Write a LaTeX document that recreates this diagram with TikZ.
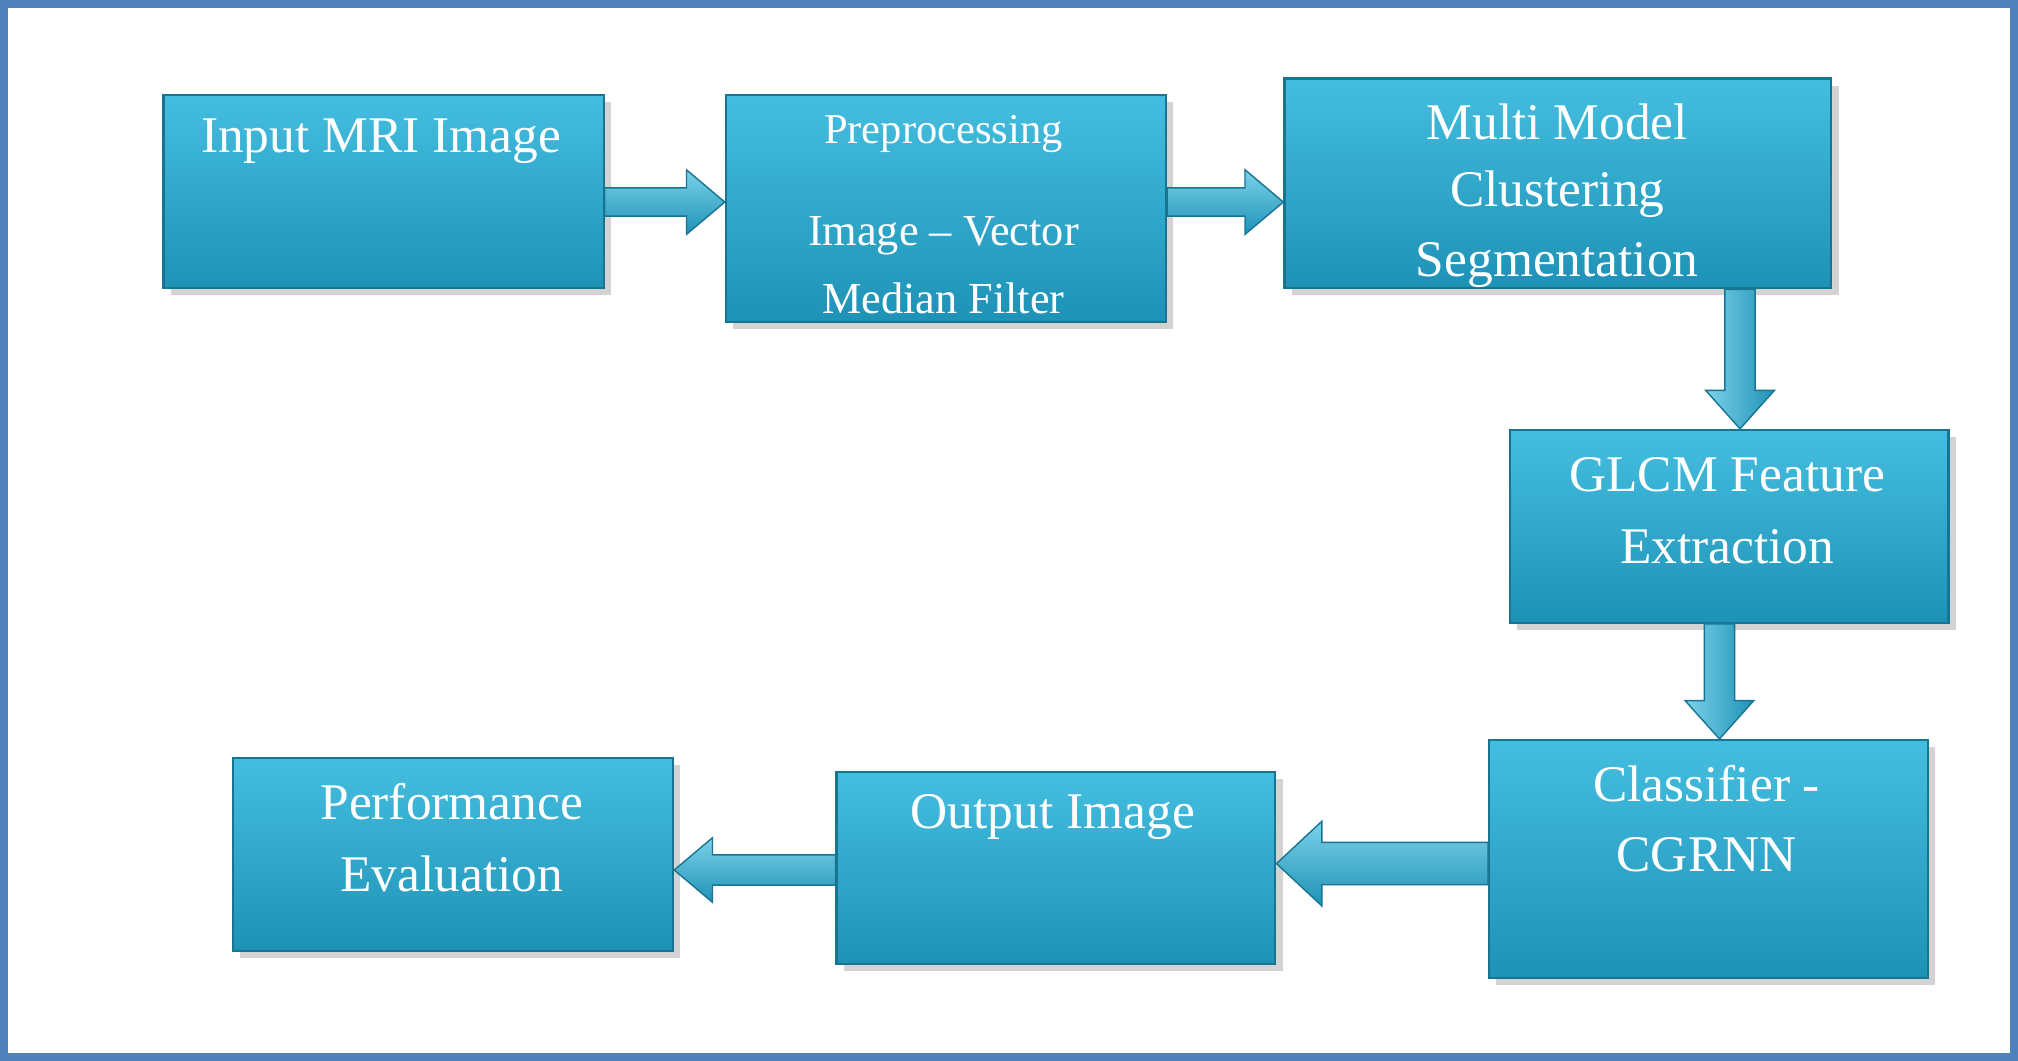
\documentclass[tikz,border=0pt]{standalone}
\usepackage{fontspec}
\setmainfont{Liberation Serif}
\usetikzlibrary{calc,shadows}

\definecolor{boxtop}{RGB}{68,190,224}
\definecolor{boxbot}{RGB}{30,146,182}
\definecolor{framec}{RGB}{79,129,189}

\tikzset{
  stepbox/.style={draw=boxbot!80!black, line width=.6pt, top color=boxtop, bottom color=boxbot,
    drop shadow={shadow xshift=2pt, shadow yshift=-2pt, opacity=.35}},
  steptext/.style={text=white, inner sep=0pt},
  harrowfill/.style={top color=boxtop!70!white, bottom color=boxbot, draw=boxbot!80!black, line width=.4pt},
  varrowfill/.style={left color=boxtop!70!white, right color=boxbot, draw=boxbot!80!black, line width=.4pt}
}

% block arrows: start, end, half shaft, half head, head length
\newcommand\rblock[5]{%
  \path[harrowfill] let \p1=#1, \p2=#2 in
    (\x1,\y1+#3) -- (\x2-#5,\y1+#3) -- (\x2-#5,\y1+#4) -- (\x2,\y1) --
    (\x2-#5,\y1-#4) -- (\x2-#5,\y1-#3) -- (\x1,\y1-#3) -- cycle;}
\newcommand\lblock[5]{%
  \path[harrowfill] let \p1=#1, \p2=#2 in
    (\x1,\y1+#3) -- (\x2+#5,\y1+#3) -- (\x2+#5,\y1+#4) -- (\x2,\y1) --
    (\x2+#5,\y1-#4) -- (\x2+#5,\y1-#3) -- (\x1,\y1-#3) -- cycle;}
\newcommand\vblock[5]{%
  \path[varrowfill] let \p1=#1, \p2=#2 in
    (\x1-#3,\y1) -- (\x1-#3,\y2+#5) -- (\x1-#4,\y2+#5) -- (\x1,\y2) --
    (\x1+#4,\y2+#5) -- (\x1+#3,\y2+#5) -- (\x1+#3,\y1) -- cycle;}

\begin{document}
\begin{tikzpicture}[x=0.01276cm, y=-0.01276cm]
  \useasboundingbox (0,0) rectangle (1568,824);
  % Rahmen
  \draw[framec, line width=2.2pt] (3,3) rectangle (1565,821);

  % Boxes
  \node[stepbox, minimum width=342*0.01276cm, minimum height=150*0.01276cm] (in) at (298,149) {};
  \node[stepbox, minimum width=342*0.01276cm, minimum height=176*0.01276cm] (pre) at (735,162) {};
  \node[stepbox, minimum width=425*0.01276cm, minimum height=163*0.01276cm] (seg) at (1210.5,142.5) {};
  \node[stepbox, minimum width=341*0.01276cm, minimum height=150*0.01276cm] (glcm) at (1343.5,409) {};
  \node[stepbox, minimum width=341*0.01276cm, minimum height=185*0.01276cm] (cls) at (1327.5,667.5) {};
  \node[stepbox, minimum width=341*0.01276cm, minimum height=149*0.01276cm] (out) at (820.5,674.5) {};
  \node[stepbox, minimum width=342*0.01276cm, minimum height=150*0.01276cm] (perf) at (352,664) {};

  % Texte
  \node[steptext, font=\fontsize{14.5}{17}\selectfont] (tin) at (296,110) {Input MRI Image};
  \begin{scope}
    \clip (pre.north west) rectangle (pre.south east);
    \node[steptext, font=\fontsize{12}{14}\selectfont] (tpre1) at (733,104) {Preprocessing};
    \node[steptext, font=\fontsize{12.5}{14}\selectfont] (tpre2) at (733,183) {Image -- Vector};
    \node[steptext, font=\fontsize{12.5}{14}\selectfont] (tpre3) at (733,232) {Median Filter};
  \end{scope}
  \begin{scope}
    \clip (seg.north west) rectangle (seg.south east);
    \node[steptext, font=\fontsize{14.5}{17}\selectfont] (tseg1) at (1210,95) {Multi Model};
    \node[steptext, font=\fontsize{14.5}{17}\selectfont] (tseg2) at (1210,151) {Clustering};
    \node[steptext, font=\fontsize{14.5}{17}\selectfont] (tseg3) at (1210,206) {Segmentation};
  \end{scope}
  \node[steptext, font=\fontsize{14.5}{17}\selectfont] (tgl1) at (1342,369) {GLCM Feature};
  \node[steptext, font=\fontsize{14.5}{17}\selectfont] (tgl2) at (1342,425) {Extraction};
  \node[steptext, font=\fontsize{14.5}{17}\selectfont] (tcl1) at (1326,609) {Classifier -};
  \node[steptext, font=\fontsize{14.5}{17}\selectfont] (tcl2) at (1326,664) {CGRNN};
  \node[steptext, font=\fontsize{14.5}{17}\selectfont] (tout) at (818,635) {Output Image};
  \node[steptext, font=\fontsize{14.5}{17}\selectfont] (tpf1) at (351,623) {Performance};
  \node[steptext, font=\fontsize{14.5}{17}\selectfont] (tpf2) at (351,679) {Evaluation};

  % Pfeile
  \rblock{(in.east |- 0,157)}{(pre.west |- 0,157)}{0.14cm}{0.32cm}{0.38cm}
  \rblock{(pre.east |- 0,157)}{(seg.west |- 0,157)}{0.14cm}{0.32cm}{0.38cm}
  \vblock{(seg.south -| 1352,0)}{(glcm.north -| 1352,0)}{0.15cm}{0.34cm}{0.38cm}
  \vblock{(glcm.south -| 1336,0)}{(cls.north -| 1336,0)}{0.15cm}{0.34cm}{0.38cm}
  \lblock{(cls.west |- 0,671)}{(out.east |- 0,671)}{0.21cm}{0.42cm}{0.45cm}
  \lblock{(out.west |- 0,676)}{(perf.east |- 0,676)}{0.15cm}{0.32cm}{0.38cm}
\end{tikzpicture}
\end{document}
